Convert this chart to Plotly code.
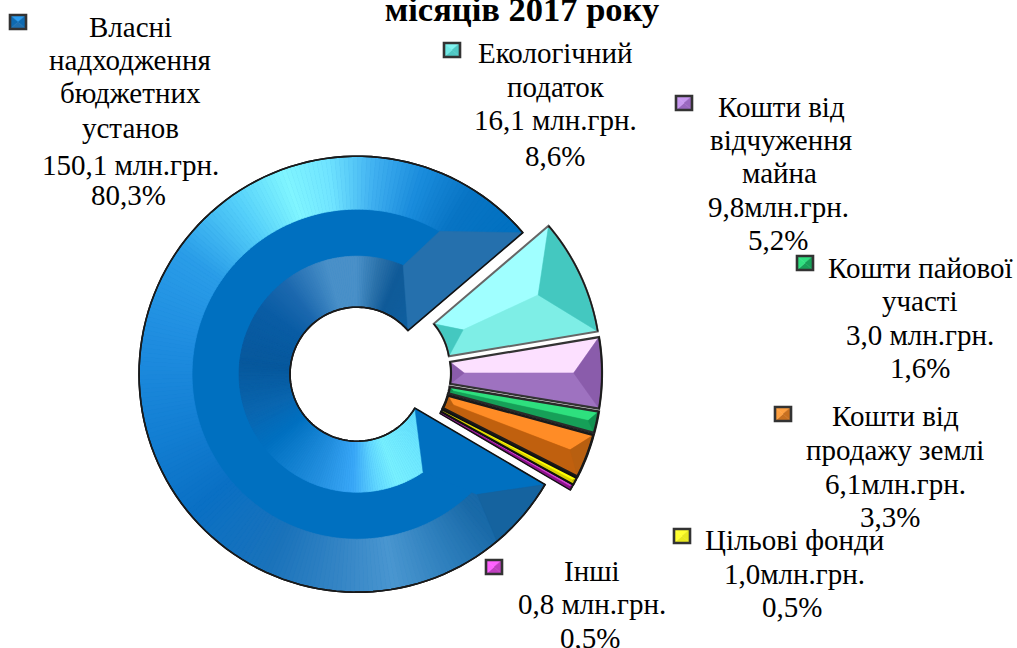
import math
import plotly.graph_objects as go

W, H = 1017, 648

# ---- data ----
categories = ["Власні надходження бюджетних установ", "Екологічний податок",
              "Кошти від відчуження майна", "Кошти пайової участі",
              "Кошти від продажу землі", "Цільові фонди", "Інші"]
values = [150.1, 16.1, 9.8, 3.0, 6.1, 1.0, 0.8]

# ---- colours per slice: base, light facet, mid facet, cap facet ----
base_colors = ["#0070c0", "#7eeee6", "#9e72c0", "#16a058", "#c0600e", "#d8d000", "#8a108a"]
light_colors = ["#0070c0", "#a0ffff", "#fce0ff", "#2ee07e", "#ff8c26", "#ffff00", "#d040d0"]
mid_colors = ["#0070c0", "#7eeee6", "#9e72c0", "#16a058", "#c0600e", "#d8d000", "#8a108a"]
cap_colors = ["#0070c0", "#44c8c0", "#8a5cab", "#129050", "#b85f10", "#b0a800", "#701070"]
line_colors = ["#111111", "#666666", "#333333", "#2a2a2a", "#1a1a1a", "#111111", "#111111"]
line_widths = [1.6, 2.0, 2.2, 2.6, 2.6, 2.0, 1.4]

# ---- text: (lines, centre x per block) ----
labels = [
    (["Власні", "надходження", "бюджетних", "установ", "150,1 млн.грн.", "80,3%"],
     [130, 130, 130, 130, 130, 128], [27, 60, 93, 128, 165, 195]),
    (["Екологічний", "податок", "16,1 млн.грн.", "8,6%"],
     [555, 556, 555, 555], [53, 87, 120, 156]),
    (["Кошти від", "відчуження", "майна", "9,8млн.грн.", "5,2%"],
     [781, 781, 779, 778, 778], [107, 140, 173, 207, 240]),
    (["Кошти пайової", "участі", "3,0 млн.грн.", "1,6%"],
     [920, 920, 920, 920], [268, 301, 335, 368]),
    (["Кошти від", "продажу землі", "6,1млн.грн.", "3,3%"],
     [895, 895, 895, 890], [416, 450, 484, 517]),
    (["Цільові фонди", "1,0млн.грн.", "0,5%"],
     [794, 794, 792], [540, 574, 607]),
    (["Інші", "0,8 млн.грн.", "0,5%"],
     [592, 592, 590], [571, 604, 638]),
]
title_text = "місяців 2017 року"

# legend key centres and facet colours: (x, y, top, left, right, bottom)
keys = [(18, 22, "#2a9cf0", "#0f6ab0", "#0f6ab0", "#2070b0"),
        (452, 50, "#80f4f0", "#70e8e4", "#50c8c4", "#50c8c4"),
        (684, 103, "#c898f0", "#c898f0", "#9a68c0", "#9a68c0"),
        (805, 263, "#30e080", "#30e080", "#18a058", "#18a058"),
        (783, 414, "#ffa040", "#ffa040", "#c87020", "#c87020"),
        (682, 536, "#ffff30", "#ffff30", "#e8e820", "#e8e820"),
        (494, 567, "#ff60ff", "#ff60ff", "#c040c0", "#c040c0")]

# ---- geometry ----
R, R_mid, R_in, R_hole = 218.0, 165.0, 118.0, 67.0
explode = 13.5
CX, CY = 370.5, 373.0
rotation = 120.4
total = sum(values)


def to_paper(x, y):
    return x / W, 1 - y / H


def domain(cx, cy, half):
    return dict(x=[(cx - half) / W, (cx + half) / W],
                y=[1 - (cy + half) / H, 1 - (cy - half) / H])


def pt(c, r, a):
    t = math.radians(a)
    return c[0] + r * math.sin(t), c[1] - r * math.cos(t)


def arc(c, r, a0, a1, n=24):
    return [pt(c, r, a0 + (a1 - a0) * i / n) for i in range(n + 1)]


def path(points, close=True):
    s = []
    for i, (x, y) in enumerate(points):
        px, py = to_paper(x, y)
        s.append(("M" if i == 0 else "L") + f"{px:.5f} {py:.5f}")
    return " ".join(s) + (" Z" if close else "")


def poly(points, fill, lw=0.5, lc=None):
    return dict(type="path", xref="paper", yref="paper", path=path(points),
                fillcolor=fill, line=dict(color=lc or fill, width=lw), layer="above")


def hex2rgb(h):
    return tuple(int(h[i:i + 2], 16) for i in (1, 3, 5))


def ramp(stops, a):
    for (a0, c0), (a1, c1) in zip(stops, stops[1:]):
        if a0 <= a <= a1:
            f = (a - a0) / (a1 - a0) if a1 > a0 else 0
            r0, r1 = hex2rgb(c0), hex2rgb(c1)
            return "rgb(%d,%d,%d)" % tuple(round(p + (q - p) * f) for p, q in zip(r0, r1))
    return stops[-1][1]


# slice angles
spans = []
a = rotation
for v in values:
    s = v / total * 360
    spans.append((a, a + s))
    a += s

centres = []
for a0, a1 in spans:
    centres.append(pt((CX, CY), explode, (a0 + a1) / 2))
blue_c = centres[0]

fig = go.Figure()
# main pie carrying the data
fig.add_trace(go.Pie(labels=categories, values=values, sort=False, direction="clockwise",
                     rotation=rotation, hole=R_hole / R, pull=explode / R,
                     domain=domain(CX, CY, R + explode), textinfo="none", showlegend=False,
                     marker=dict(colors=base_colors, line=dict(width=0))))

# shading bands of the big slice (angle clockwise from north, running past 360)
outer_stops = [(120, "#0d62a6"), (140, "#1a6aa8"), (155, "#2f80bd"), (170, "#4a96d0"), (185, "#3585c5"),
               (205, "#1a72ba"), (230, "#0a70c4"), (255, "#1480d4"), (280, "#1f8de0"), (305, "#2a9de8"),
               (325, "#55d0fa"), (340, "#80f5ff"), (352, "#70e4ff"), (365, "#40b0f0"), (378, "#1a8cdc"),
               (392, "#0874c4"), (410, "#0070c0")]
inner_stops = [(120, "#60dcff"), (160, "#78f0ff"), (170, "#62d8ff"), (182, "#3aa8f8"), (200, "#2490e0"),
               (232, "#0070c0"), (250, "#0a66b0"), (275, "#07589c"), (305, "#0a5ca4"), (322, "#1c68ae"),
               (345, "#4a90c8"), (360, "#4a90c8"), (372, "#2a70a8"), (382, "#105a98"), (410, "#1060a0")]
N_SEG = 240
rest = total - values[0]
for r_o, r_i, stops in [(R, R_mid, outer_stops), (R_in, R_hole, inner_stops)]:
    seg_cols = []
    for i in range(N_SEG):
        seg_cols.append(ramp(stops, spans[0][0] + (i + 0.5) * (spans[0][1] - spans[0][0]) / N_SEG))
    fig.add_trace(go.Pie(values=[values[0] / N_SEG] * N_SEG + [rest], sort=False, direction="clockwise",
                         rotation=rotation, hole=r_i / r_o, domain=domain(blue_c[0], blue_c[1], r_o),
                         textinfo="none", showlegend=False, hoverinfo="skip",
                         marker=dict(colors=seg_cols + ["rgba(0,0,0,0)"],
                                     line=dict(color=seg_cols + ["rgba(0,0,0,0)"], width=0.7))))

shapes = []
# end caps of the big slice
b0, b1 = spans[0]
end = b1 - 360
shapes.append(poly([pt(blue_c, R, end), pt(blue_c, R_mid, 30), pt(blue_c, R_in, 23), pt(blue_c, R_hole, end)], "#2570ad"))
shapes.append(poly([pt(blue_c, R_mid + 5, 135), pt(blue_c, R_in, 146), pt(blue_c, R_hole, b0), pt(blue_c, R, b0)], "#0070c0"))
shapes.append(poly([pt(blue_c, R, b0)] + arc(blue_c, R - 1, b0, 140, 8) + [pt(blue_c, R_mid + 5, 135)], "#15639f"))

# facets of the small slices
for i in range(1, len(values)):
    c = centres[i]
    a0, a1 = spans[i]
    sw = a1 - a0
    am = (a0 + a1) / 2
    P = pt(c, R - 1.5 * sw, am)
    Q = pt(c, R_hole + 0.7 * sw, am)
    A, B = pt(c, R, a0), pt(c, R, a1)
    E, D = pt(c, R_hole, a0), pt(c, R_hole, a1)
    shapes.append(poly([E, A, P, Q], light_colors[i]))
    shapes.append(poly([Q, P, B, D], mid_colors[i]))
    shapes.append(poly(arc(c, R, a0, a1, 12) + [P], cap_colors[i]))
    shapes.append(poly(arc(c, R_hole, a0, a1, 6) + [Q], cap_colors[i]))

# outlines
for i in range(len(values)):
    c = centres[i]
    a0, a1 = spans[i]
    n = 120 if i == 0 else 24
    pts = arc(c, R, a0, a1, n) + arc(c, R_hole, a1, a0, n)
    shapes.append(dict(type="path", xref="paper", yref="paper", path=path(pts),
                       fillcolor="rgba(0,0,0,0)",
                       line=dict(color=line_colors[i], width=line_widths[i]), layer="above"))
    # outer and inner rims are darker than the slice edges
    for rim in (R, R_hole):
        shapes.append(dict(type="path", xref="paper", yref="paper",
                           path=path(arc(c, rim, a0, a1, n), close=False),
                           line=dict(color="#1a1a1a", width=1.6), layer="above"))

# legend keys
for kx, ky, top, left, right, bottom in keys:
    hx, hy = 8.0, 7.0
    tl, tr, br, bl = (kx - hx, ky - hy), (kx + hx, ky - hy), (kx + hx, ky + hy), (kx - hx, ky + hy)
    m = (kx, ky)
    shapes.append(poly([tl, tr, m], top))
    shapes.append(poly([bl, br, m], bottom))
    shapes.append(poly([tl, bl, m], left))
    shapes.append(poly([tr, br, m], right))
    shapes.append(dict(type="path", xref="paper", yref="paper", path=path([tl, tr, br, bl]),
                       fillcolor="rgba(0,0,0,0)", line=dict(color="#333333", width=2.6), layer="above"))

annotations = []
for lines, xs, ys in labels:
    for t, x, y in zip(lines, xs, ys):
        px, py = to_paper(x, y)
        annotations.append(dict(text=t, x=px, y=py, xref="paper", yref="paper", showarrow=False,
                                xanchor="center", yanchor="middle",
                                font=dict(family="Liberation Serif", size=29, color="#000000")))

fig.update_layout(
    width=W, height=H, margin=dict(l=0, r=0, t=0, b=0), autosize=False,
    paper_bgcolor="white", plot_bgcolor="white", showlegend=False,
    title=dict(text=title_text, x=522 / W, y=1 - 9 / H, xanchor="center", yanchor="middle",
               font=dict(family="Liberation Serif", size=34.5, color="#000000", weight="bold")),
    shapes=shapes, annotations=annotations,
)
fig.write_html("out.html", config=dict(displayModeBar=False),
               post_script="document.body.style.margin='0';document.body.style.overflow='hidden';")
